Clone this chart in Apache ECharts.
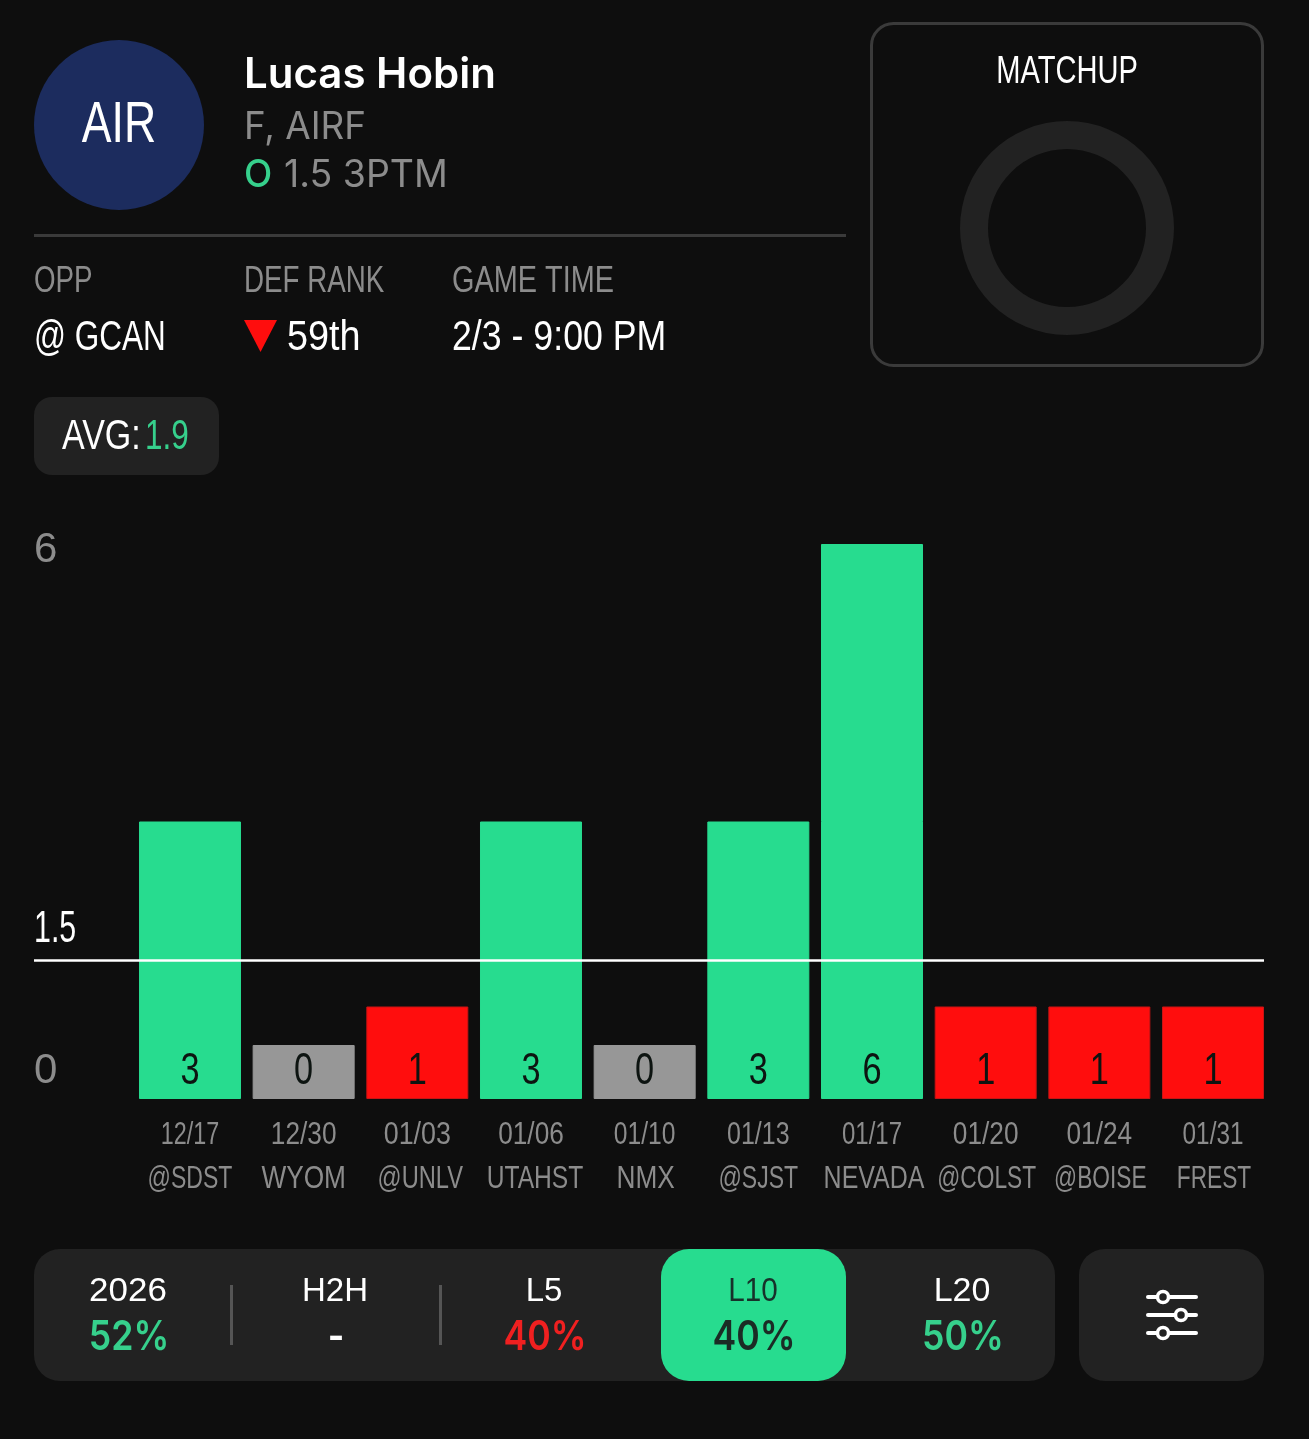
<!DOCTYPE html>
<html><head><meta charset="utf-8">
<style>html,body{margin:0;padding:0;background:#0e0e0e}#c{width:1309px;height:1439px}</style>
<script src="https://cdn.jsdelivr.net/npm/echarts@6/dist/echarts.min.js"></script>
</head><body><div id="c"></div>
<script>
const dates = ['12/17','12/30','01/03','01/06','01/10','01/13','01/17','01/20','01/24','01/31'];
const opponents = ['@SDST','WYOM','@UNLV','UTAHST','NMX','@SJST','NEVADA','@COLST','@BOISE','FREST'];
const values = [3,0,1,3,0,3,6,1,1,1];
const lineValue = 1.5;
const yTicks = [0,6];
const periods = ['2026','H2H','L5','L10','L20'];
const periodHits = ['52%','-','40%','40%','50%'];

const BG='#0e0e0e', PANEL='#222222', GREEN='#27dc8f', TGREEN='#36d08c', RED='#ff0d0d', GRAY='#979797', MUTED='#8c8c8c', EDGE='#3a3a3a', INK='#0d1411';
const SANS='"Liberation Sans",sans-serif';
const WIDE='Inter,"Liberation Sans",sans-serif';
const barColor = v => v === 0 ? GRAY : (v > lineValue ? GREEN : RED);
// per-label glyph squeeze, the reference face is condensed
const dateSqueeze=[.73,.82,.84,.82,.77,.78,.75,.82,.82,.76];
const oppSqueeze=[.72,.82,.74,.77,.82,.72,.78,.71,.71,.71];
const oppShift=[0,0,3,4,1,0,2,1,1,1];

function T(x,y,text,size,fill,sx,opt){
  return {type:'text',x,y:y+2.5,scaleX:sx||1,silent:true,style:Object.assign({text,fill,fontSize:size,fontFamily:SANS,verticalAlign:'middle',align:'left'},opt||{})};
}
function R(x,y,w,h,r,fill,extra){
  return {type:'rect',silent:true,shape:{x,y,width:w,height:h,r},style:Object.assign({fill},extra||{})};
}

const gfx = [
  {type:'circle',silent:true,shape:{cx:119,cy:125,r:85},style:{fill:'#1c2c5e'}},
  T(119,123,'AIR',58,'#fff',.77,{align:'center'}),
  T(244,73,'Lucas Hobin',42,'#fff',1,{fontFamily:WIDE,fontWeight:600}),
  T(244,125,'F, AIRF',38,MUTED,.97,{fontFamily:WIDE}),
  T(244,173,'O',38,TGREEN,.97,{fontFamily:WIDE,fontWeight:500}),
  T(284,173,'1.5 3PTM',38,MUTED,.985,{fontFamily:WIDE}),
  R(34,234,812,3,0,EDGE),
  T(34,279,'OPP',37,MUTED,.75),
  T(244,279,'DEF RANK',37,MUTED,.75),
  T(452,279,'GAME TIME',37,MUTED,.78),
  T(34,336,'@ GCAN',42,'#fff',.75),
  {type:'polygon',silent:true,shape:{points:[[244,320],[277,320],[260.5,352]]},style:{fill:RED}},
  T(287,336,'59th',42,'#fff',.9),
  T(452,336,'2/3 - 9:00 PM',42,'#fff',.85),
  R(871.5,23.5,391,342,22,'none',{stroke:EDGE,lineWidth:3}),
  T(1067,70,'MATCHUP',39,'#fff',.746,{align:'center'}),
  {type:'ring',silent:true,shape:{cx:1067,cy:228,r:107,r0:79},style:{fill:PANEL}},
  R(34,397,185,78,18,PANEL),
  T(62,435,'AVG:',42,'#fff',.81),
  T(145,435,'1.9',42,TGREEN,.75),
  R(34,1249,1021,132,26,PANEL),
  R(661,1249,185,132,28,GREEN),
  R(230,1285,3,60,0,'#555'),
  R(439,1285,3,60,0,'#555'),
  R(1079,1249,185,132,26,PANEL)
];
const centers=[128,335,544,753,962];
const labelScale=[1.06,1,1,.9,1.03];
periods.forEach((p,i)=>{
  const active = p==='L10';
  const hit = periodHits[i];
  gfx.push(T(centers[i],1289,p,33,active?'#17312a':'#fff',labelScale[i],{align:'center'}));
  const col = active ? '#1b2b25' : hit==='-' ? '#fff' : parseInt(hit,10)>=50 ? TGREEN : '#f02020';
  gfx.push(T(centers[i]+1,1335,hit,41,col,.87,{align:'center',fontFamily:WIDE,fontWeight:600}));
});
[[1297,1163],[1315,1181],[1333,1163]].forEach(([y,kx])=>{
  gfx.push(R(1146,y-2,52,4,2,'#fff'));
  gfx.push({type:'circle',silent:true,z:101,shape:{cx:kx,cy:y,r:5.5},style:{fill:PANEL,stroke:'#fff',lineWidth:3.5}});
});

function narrowText(x,y,text,size,fill,sx){
  return {type:'text',x,y,scaleX:sx,silent:true,style:{text,fill,fontSize:size,fontFamily:SANS,align:'center',verticalAlign:'middle'}};
}

const chart = echarts.init(document.getElementById('c'),null,{renderer:'canvas'});
chart.setOption({
  backgroundColor:BG,
  animation:false,
  grid:{left:133.15,right:39.15,top:544,bottom:340},
  xAxis:{type:'category',data:dates,axisLine:{show:false},axisTick:{show:false},axisLabel:{show:false}},
  yAxis:{type:'value',min:0,max:6,splitLine:{show:false},axisLine:{show:false},axisTick:{show:false},
    axisLabel:{customValues:yTicks,color:MUTED,fontFamily:SANS,fontSize:42,align:'left',margin:99.15,
      verticalAlignMinLabel:'bottom',verticalAlignMaxLabel:'top',
      formatter:v=> v===0 ? '{lo|0}' : '{hi|6}',
      rich:{lo:{color:MUTED,fontFamily:SANS,fontSize:42,lineHeight:56},hi:{color:MUTED,fontFamily:SANS,fontSize:42,lineHeight:12}}}},
  series:[{
    type:'bar',
    data:values.map(v=>({value:v,itemStyle:{color:barColor(v),borderColor:v>0&&v<lineValue?'#c81414':barColor(v),borderWidth:1}})),
    barWidth:102,
    barMinHeight:54,
    markLine:{silent:true,symbol:'none',animation:false,clip:false,
      lineStyle:{color:'#fff',width:2.5,type:'solid'},
      label:{show:false},
      data:[[{x:34,yAxis:lineValue},{x:1264,yAxis:lineValue}]]}
  },{
    type:'custom',
    coordinateSystem:'cartesian2d',
    silent:true,
    z:5,
    data:dates.map((d,i)=>[i,values[i]]),
    renderItem:(params,api)=>{
      const i=params.dataIndex;
      const p=api.coord([api.value(0),0]);
      return {type:'group',children:[
        narrowText(p[0],p[1]-27,String(api.value(1)),44,INK,.78),
        narrowText(p[0],p[1]+36,dates[i],32,MUTED,dateSqueeze[i]),
        narrowText(p[0]+oppShift[i],p[1]+80,opponents[i],32,MUTED,oppSqueeze[i])
      ]};
    }
  },{
    type:'custom',
    coordinateSystem:'cartesian2d',
    silent:true,
    z:5,
    data:[[0,lineValue]],
    renderItem:(params,api)=>{
      const p=api.coord([0,api.value(1)]);
      return {type:'group',children:[
        {type:'text',x:34,y:p[1]-30,scaleX:.69,silent:true,style:{text:String(lineValue),fill:'#fff',fontSize:44,fontFamily:SANS,align:'left',verticalAlign:'middle'}}
      ]};
    }
  }],
  graphic:gfx
});
</script></body></html>
